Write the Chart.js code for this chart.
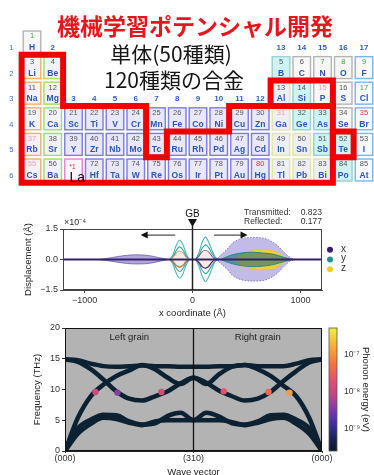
<!DOCTYPE html>
<html lang="ja">
<head>
<meta charset="utf-8">
<title>機械学習ポテンシャル開発</title>
<script src="https://cdn.jsdelivr.net/npm/chart.js@4.4.1/dist/chart.umd.min.js"></script>
<style>
  html, body { margin: 0; padding: 0; background: #fff; }
  #page { position: relative; width: 374px; height: 475px; overflow: hidden; }
  #page canvas { position: absolute; left: 0; }
  #title { position: absolute; left: 0; top: 8px; width: 390px; text-align: center; line-height: 28px;
           font: bold 23px "Noto Sans CJK JP", sans-serif; color: #e8161c; }
  .note { position: absolute; left: 0; text-align: center; white-space: nowrap;
          font: 21px/24px "Noto Sans CJK JP", sans-serif; color: #151515; }
</style>
</head>
<body>
<div id="page">
  <canvas id="dispChart" width="374" height="120" style="top:200px"></canvas>
  <canvas id="phononChart" width="374" height="158" style="top:320px"></canvas>
  <canvas id="tableChart" width="374" height="205" style="top:0"></canvas>
  <div id="title">機械学習ポテンシャル開発</div>
  <div class="note" style="top:41px;width:342px">単体(50種類)</div>
  <div class="note" style="top:67px;width:348px">120種類の合金</div>
</div>
<script>
// ---------- periodic table ----------
const elemSymbols = ['H',
  'Li','Be','B','C','N','O','F',
  'Na','Mg','Al','Si','P','S','Cl',
  'K','Ca','Sc','Ti','V','Cr','Mn','Fe','Co','Ni','Cu','Zn','Ga','Ge','As','Se','Br',
  'Rb','Sr','Y','Zr','Nb','Mo','Tc','Ru','Rh','Pd','Ag','Cd','In','Sn','Sb','Te','I',
  'Cs','Ba','La','Hf','Ta','W','Re','Os','Ir','Pt','Au','Hg','Tl','Pb','Bi','Po','At'];
const elemNumbers = ['1',
  '3','4','5','6','7','8','9',
  '11','12','13','14','15','16','17',
  '19','20','21','22','23','24','25','26','27','28','29','30','31','32','33','34','35',
  '37','38','39','40','41','42','43','44','45','46','47','48','49','50','51','52','53',
  '55','56','*1','72','73','74','75','76','77','78','79','80','81','82','83','84','85'];
const elemGroups = [1,
  1,2,13,14,15,16,17,
  1,2,13,14,15,16,17,
  1,2,3,4,5,6,7,8,9,10,11,12,13,14,15,16,17,
  1,2,3,4,5,6,7,8,9,10,11,12,13,14,15,16,17,
  1,2,3,4,5,6,7,8,9,10,11,12,13,14,15,16,17];
const elemPeriods = [1,
  2,2,2,2,2,2,2,
  3,3,3,3,3,3,3,
  4,4,4,4,4,4,4,4,4,4,4,4,4,4,4,4,4,
  5,5,5,5,5,5,5,5,5,5,5,5,5,5,5,5,5,
  6,6,6,6,6,6,6,6,6,6,6,6,6,6,6,6,6];
// a alkali, e alkaline earth, t transition, p post-transition, m metalloid, n nonmetal, h halogen, l lanthanide
const elemKinds = ['n',
  'a','e','m','n','n','n','h',
  'a','e','p','m','n','n','h',
  'a','e','t','t','t','t','t','t','t','t','t','t','p','m','m','n','h',
  'a','e','t','t','t','t','t','t','t','t','t','t','p','p','m','m','h',
  'a','e','l','t','t','t','t','t','t','t','t','t','p','p','p','m','h'];
// g gas, l liquid, w pale, s solid
const elemStates = ['g',
  's','s','s','s','g','g','g',
  's','s','s','s','w','s','g',
  's','s','s','s','s','s','s','s','s','s','s','s','w','s','s','s','l',
  'w','s','s','s','s','s','s','s','s','s','s','s','s','s','s','s','s',
  'w','s','s','s','s','s','s','s','s','s','s','l','s','s','s','s','s'];
const periodLabels = [1, 2, 3, 4, 5, 6];
const groupLabels = [2, 13, 14, 15, 16, 17, 3, 4, 5, 6, 7, 8, 9, 10, 11, 12];
const groupLabelRows = [1, 1, 1, 1, 1, 1, 3, 3, 3, 3, 3, 3, 3, 3, 3, 3];
// highlighted blocks: [first group, last group, first period, last period]
const hlMain = [[1, 2, 2, 6], [3, 6, 4, 6], [7, 10, 6, 6], [8, 10, 5, 5], [11, 15, 4, 6]];
const hlAlloy = [[13, 15, 3, 3]];
const hlTe = [[16, 16, 5, 5]];

// ---------- displacement panel (units of 1e-4 Å) ----------
const dispXTicks = [-1000, 0, 1000];
const dispYTicks = [-1.5, 0, 1.5];
const baseX = [-1200, 1200];
const baseY = [0, 0];
const reflX = [-880, -800, -700, -600, -500, -400, -300, -220];
const reflUp = [0, 0.05, 0.14, 0.21, 0.23, 0.19, 0.08, 0];
const reflLo = [0, -0.05, -0.13, -0.2, -0.22, -0.19, -0.08, 0];
const transX = [220, 320, 380, 470, 600, 690, 780, 840, 900, 950];
const transUp = [0, 0.5, 0.85, 1.05, 1.08, 1.0, 0.72, 0.4, 0.12, 0];
const transLo = [0, -0.48, -0.82, -1.02, -1.06, -0.98, -0.7, -0.38, -0.1, 0];
const transZX = [380, 450, 550, 650, 750, 830, 880];
const transZUp = [0, 0.22, 0.42, 0.48, 0.42, 0.18, 0];
const transZLo = [0, -0.25, -0.45, -0.5, -0.45, -0.2, 0];
const transYX = [260, 350, 450, 550, 650, 750, 850, 920];
const transYUp = [0, 0.2, 0.32, 0.36, 0.32, 0.26, 0.1, 0];
const transYLo = [0, -0.18, -0.3, -0.35, -0.33, -0.25, -0.1, 0];
const gbLX = [-210, -180, -150, -120, -90, -60, -30];
const gbLUp = [0, 0.25, 0.7, 0.95, 0.75, 0.3, 0];
const gbLLo = [0, -0.25, -0.68, -0.92, -0.72, -0.28, 0];
const gbLInUp = [0, 0.15, 0.45, 0.62, 0.48, 0.18, 0];
const gbLInLo = [0, -0.15, -0.43, -0.6, -0.46, -0.17, 0];
const gbLCoreUp = [0, 0.1, 0.3, 0.4, 0.32, 0.1, 0];
const gbLCoreLo = [0, -0.1, -0.3, -0.38, -0.3, -0.1, 0];
const gbRX = [30, 60, 90, 120, 150, 180, 210, 240];
const gbRUp = [0, 0.35, 0.85, 1.1, 0.85, 0.45, 0.12, 0];
const gbRLo = [0, -0.33, -0.82, -1.08, -0.85, -0.45, -0.1, 0];
const gbRInUp = [0, 0.22, 0.55, 0.72, 0.58, 0.3, 0.08, 0];
const gbRInLo = [0, -0.2, -0.53, -0.7, -0.56, -0.28, -0.08, 0];
const gbRCoreUp = [0, 0.14, 0.36, 0.44, 0.35, 0.14, 0, 0];
const gbRCoreLo = [0, -0.14, -0.35, -0.42, -0.34, -0.13, 0, 0];
const arrowFrom = [-160, 200];
const arrowTo = [-480, 510];
const arrowY = 1.2;
const transmitted = 0.823;
const reflected = 0.177;
const compLabels = ['x', 'y', 'z'];
const compColors = ['#3b1c6e', '#27918b', '#f2cf18'];

// ---------- phonon dispersion panel ----------
const qGrid = [0, 0.1, 0.2, 0.3, 0.4, 0.5, 0.6, 0.7, 0.8, 0.9, 1.0,
               1.1, 1.2, 1.3, 1.4, 1.5, 1.6, 1.7, 1.8, 1.9, 2.0];
const bandT = [14.9, 14.75, 14.2, 13.8, 13.7, 13.8, 13.9, 13.8, 13.8, 13.7, 13.7,
               13.7, 13.8, 13.8, 14.0, 13.8, 13.8, 13.8, 14.2, 14.75, 14.9];
const bandD = [14.9, 14.5, 13.3, 11.6, 9.7, 8.5, 8.2, 8.9, 9.7, 11.0, 11.9,
               11.1, 9.8, 8.9, 8.2, 8.5, 9.6, 11.4, 13.0, 14.4, 14.9];
const bandA = [0, 5.4, 8.9, 10.8, 12.2, 13.1, 14.0, 13.3, 11.9, 10.9, 11.9,
               10.9, 12.5, 13.7, 14.0, 13.3, 12.2, 10.6, 8.9, 5.4, 0];
const bandL1 = [0, 3.7, 5.1, 5.9, 5.8, 4.8, 4.3, 4.5, 5.7, 6.2, 5.0,
                6.2, 5.6, 4.5, 4.3, 4.8, 5.8, 5.9, 5.1, 3.7, 0];
const bandL2 = [0, 2.8, 4.4, 5.4, 5.2, 4.6, 4.2, 4.8, 5.0, 5.0, 5.0,
                5.0, 5.0, 4.7, 4.2, 4.6, 5.2, 5.4, 4.4, 2.8, 0];
const markerQ = [0.237, 0.408, 0.75, 1.235, 1.584, 1.747];
const markerF = [9.6, 9.5, 9.6, 9.7, 9.6, 9.5];
const markerE = [1.2e-8, 4e-9, 1.5e-8, 2e-8, 4e-8, 1.2e-7];
const freqTicks = [0, 5, 10, 15, 20];
const waveTickPos = [0, 1, 2];
const waveTickLabels = ['(000)', '(310)', '(000)'];
const grainLabels = ['Left grain', 'Right grain'];
const grainLabelQ = [0.5, 1.5];
const grainLabelF = 18.4;
const cbarTicks = [1e-9, 1e-8, 1e-7];
const cmapLogE = [-9.6, -9.3, -9.05, -8.78, -8.42, -8.07, -7.71, -7.27, -6.82, -6.28];
const cmapColors = ['#0b1830', '#151f52', '#2a2a80', '#5030a8', '#8a3aa8', '#c04888',
                    '#e05070', '#f77040', '#f8a838', '#f0f040'];

Chart.defaults.font.family = '"Liberation Sans", Arial, sans-serif';
Chart.defaults.color = '#333';
Chart.defaults.animation = false;

const kindStyles = {
  a: {fill: '#f3f1fb', border: '#f2b26a'},
  e: {fill: '#f3f1fb', border: '#a6dc6a'},
  t: {fill: '#e9e8fb', border: '#7d7de3'},
  p: {fill: '#eeeef6', border: '#e2e6a0'},
  m: {fill: '#cdf3f3', border: '#9fcfcf'},
  n: {fill: '#f7f7f7', border: '#b5b5b5'},
  h: {fill: '#f7f9ff', border: '#78b8ec'},
  l: {fill: '#fdf6fd', border: '#ea7fe0'}
};
const stateColors = {g: '#3cae3c', l: '#e03030', w: '#f0a0a8', s: '#555'};

// outline of a union of grid blocks: draw every cell side that has no neighbour inside
function drawRegion(ctx, xs, ys, blocks) {
  const inside = new Set();
  blocks.forEach(([c1, c2, r1, r2]) => {
    for (let c = c1; c <= c2; c++) for (let r = r1; r <= r2; r++) inside.add(c + ',' + r);
  });
  const has = (c, r) => inside.has(c + ',' + r);
  ctx.beginPath();
  inside.forEach(key => {
    const [c, r] = key.split(',').map(Number);
    const l = xs.getPixelForValue(c - 0.5), rt = xs.getPixelForValue(c + 0.5);
    const t = ys.getPixelForValue(r - 0.5), b = ys.getPixelForValue(r + 0.5);
    if (!has(c - 1, r)) { ctx.moveTo(l, t); ctx.lineTo(l, b); }
    if (!has(c + 1, r)) { ctx.moveTo(rt, t); ctx.lineTo(rt, b); }
    if (!has(c, r - 1)) { ctx.moveTo(l, t); ctx.lineTo(rt, t); }
    if (!has(c, r + 1)) { ctx.moveTo(l, b); ctx.lineTo(rt, b); }
  });
  ctx.stroke();
}

const tablePlugin = {
  id: 'tableCells',
  afterDraw(chart) {
    const {ctx} = chart;
    const xs = chart.scales.x, ys = chart.scales.y;
    const colW = xs.getPixelForValue(1) - xs.getPixelForValue(0);
    const rowH = ys.getPixelForValue(1) - ys.getPixelForValue(0);
    const cw = colW * 0.91, ch = rowH * 0.91;
    ctx.save();
    ctx.textAlign = 'center';
    ctx.textBaseline = 'middle';

    // period and group numbers
    ctx.fillStyle = '#4070c8';
    ctx.font = '7.5px "Liberation Sans"';
    periodLabels.forEach(p => {
      ctx.fillText(String(p), xs.getPixelForValue(0), ys.getPixelForValue(p) + rowH * 0.23);
    });
    ctx.fillStyle = '#2e5fc0';
    ctx.font = 'bold 8px "Liberation Sans"';
    groupLabels.forEach((g, i) => {
      ctx.fillText(String(g), xs.getPixelForValue(g), ys.getPixelForValue(groupLabelRows[i]) + rowH * 0.23);
    });

    // element cells
    const meta = chart.getDatasetMeta(0);
    let laPoint = null, laIndex = -1;
    meta.data.forEach((pt, i) => {
      const st = kindStyles[elemKinds[i]];
      const left = pt.x - cw / 2, top = pt.y - ch / 2;
      ctx.fillStyle = st.fill;
      ctx.fillRect(left, top, cw, ch);
      ctx.strokeStyle = st.border;
      ctx.lineWidth = 1.4;
      ctx.strokeRect(left + 0.7, top + 0.7, cw - 1.4, ch - 1.4);
      if (elemKinds[i] === 'l') {
        ctx.fillStyle = '#e03030';
        ctx.font = '6.5px "Liberation Sans"';
        ctx.fillText(elemNumbers[i], pt.x - 1, pt.y - 3);
        laPoint = pt; laIndex = i;
      } else {
        ctx.fillStyle = stateColors[elemStates[i]];
        ctx.font = '7.5px "Liberation Sans"';
        ctx.fillText(elemNumbers[i], pt.x, pt.y - rowH * 0.22);
        ctx.fillStyle = '#2a55b5';
        ctx.font = 'bold 8.5px "Liberation Sans"';
        ctx.fillText(elemSymbols[i], pt.x, pt.y + rowH * 0.22);
      }
    });

    // red outlines
    ctx.strokeStyle = '#f00000';
    ctx.lineWidth = 6;
    ctx.lineCap = 'square';
    [hlMain, hlAlloy, hlTe].forEach(blocks => drawRegion(ctx, xs, ys, blocks));

    // the La label sits over the outline
    if (laPoint) {
      ctx.fillStyle = '#111';
      ctx.font = '14px "Liberation Sans"';
      ctx.textAlign = 'left';
      ctx.textBaseline = 'alphabetic';
      ctx.fillText(elemSymbols[laIndex], laPoint.x - 4, laPoint.y + 12);
    }
    ctx.restore();
  }
};

new Chart(document.getElementById('tableChart'), {
  type: 'scatter',
  data: {
    datasets: [{
      data: elemSymbols.map((s, i) => ({x: elemGroups[i], y: elemPeriods[i]})),
      pointRadius: 0
    }]
  },
  options: {
    responsive: false,
    events: [],
    layout: {padding: 0},
    plugins: {legend: {display: false}, tooltip: {enabled: false}},
    scales: {
      x: {type: 'linear', display: false, min: -0.542, max: 17.482},
      y: {type: 'linear', display: false, reverse: true, min: -0.64, max: 7.367}
    }
  },
  plugins: [tablePlugin]
});

// ---------- displacement chart ----------
const dispSets = [];
function addBand(xs, up, lo, fillCol, lineCol, lw, dash) {
  const common = {borderColor: lineCol, borderWidth: lw, borderDash: dash || [], pointRadius: 0, tension: 0.35};
  dispSets.push(Object.assign({data: xs.map((x, i) => ({x, y: up[i]})), fill: false}, common));
  dispSets.push(Object.assign({data: xs.map((x, i) => ({x, y: lo[i]})),
    fill: fillCol ? '-1' : false, backgroundColor: fillCol || 'transparent'}, common));
}
// pushed bottom layer first
addBand(reflX, reflUp, reflLo, 'rgba(100,80,185,0.5)', 'rgba(70,50,150,0.75)', 0.8);
addBand(transX, transUp, transLo, 'rgba(105,85,195,0.4)', 'rgba(80,60,170,0.7)', 0.9, [1.5, 1.5]);
addBand(transZX, transZUp, transZLo, 'rgba(245,212,30,0.85)', '#e8c81a', 1);
addBand(transYX, transYUp, transYLo, 'rgba(35,110,120,0.6)', '#2a8c8a', 1);
addBand(gbLX, gbLUp, gbLLo, null, '#4cb8b8', 1.1);
addBand(gbLX, gbLInUp, gbLInLo, null, '#3aa3a3', 1.1);
addBand(gbLX, gbLCoreUp, gbLCoreLo, 'rgba(246,236,222,0.95)', '#c27a3a', 1.3);
addBand(gbRX, gbRUp, gbRLo, null, '#4cb8b8', 1.1);
addBand(gbRX, gbRInUp, gbRInLo, null, '#3aa3a3', 1.1);
addBand(gbRX, gbRCoreUp, gbRCoreLo, 'rgba(246,236,222,0.95)', '#4a2c7a', 1.3);
dispSets.push({data: baseX.map((x, i) => ({x, y: baseY[i]})), borderColor: '#35206a',
  borderWidth: 2, pointRadius: 0, fill: false});
dispSets.forEach((d, i) => { d.order = dispSets.length - i; });

const dispPlugin = {
  id: 'dispDecor',
  afterDatasetsDraw(chart) {
    const {ctx, chartArea: a} = chart;
    const xs = chart.scales.x, ys = chart.scales.y;
    ctx.save();
    ctx.strokeStyle = '#444';
    ctx.lineWidth = 1;
    ctx.strokeRect(a.left + 0.5, a.top + 0.5, a.right - a.left - 1, a.bottom - a.top - 1);

    // grain boundary
    const gx = xs.getPixelForValue(0);
    ctx.strokeStyle = '#222';
    ctx.lineWidth = 1.5;
    ctx.beginPath();
    ctx.moveTo(gx, a.top - 3);
    ctx.lineTo(gx, a.bottom);
    ctx.stroke();
    ctx.fillStyle = '#111';
    ctx.beginPath();
    ctx.moveTo(gx - 4.5, a.top - 10);
    ctx.lineTo(gx + 4.5, a.top - 10);
    ctx.lineTo(gx, a.top - 2);
    ctx.closePath();
    ctx.fill();
    ctx.font = '10px "Liberation Sans"';
    ctx.textAlign = 'center';
    ctx.textBaseline = 'middle';
    ctx.fillText('GB', gx, a.top - 15);

    // arrows
    const ay = ys.getPixelForValue(arrowY);
    ctx.strokeStyle = '#222';
    ctx.lineWidth = 1;
    arrowFrom.forEach((f, i) => {
      const x1 = xs.getPixelForValue(f), x2 = xs.getPixelForValue(arrowTo[i]);
      const dir = Math.sign(x2 - x1);
      ctx.beginPath();
      ctx.moveTo(x1, ay);
      ctx.lineTo(x2 - dir * 6, ay);
      ctx.stroke();
      ctx.beginPath();
      ctx.moveTo(x2, ay);
      ctx.lineTo(x2 - dir * 7, ay - 3.5);
      ctx.lineTo(x2 - dir * 7, ay + 3.5);
      ctx.closePath();
      ctx.fill();
    });

    // exponent and coefficients
    ctx.textAlign = 'left';
    ctx.font = '9px "Liberation Sans"';
    ctx.fillStyle = '#333';
    ctx.fillText('×10⁻⁴', a.left + 1, a.top - 6);
    ctx.font = '8.5px "Liberation Sans"';
    ctx.fillText('Transmitted:', a.right - 78, a.top - 16);
    ctx.fillText('Reflected:', a.right - 78, a.top - 7);
    ctx.textAlign = 'right';
    ctx.fillText(transmitted.toFixed(3), a.right, a.top - 16);
    ctx.fillText(reflected.toFixed(3), a.right, a.top - 7);

    // legend
    const mid = (a.top + a.bottom) / 2;
    ctx.textAlign = 'left';
    ctx.font = '10px "Liberation Sans"';
    compLabels.forEach((lab, i) => {
      const yy = mid + (i - 1) * 9.7;
      ctx.fillStyle = compColors[i];
      ctx.beginPath();
      ctx.arc(a.right + 8, yy, 3, 0, Math.PI * 2);
      ctx.fill();
      ctx.fillStyle = '#333';
      ctx.fillText(lab, a.right + 19, yy - 1);
    });
    ctx.restore();
  }
};

new Chart(document.getElementById('dispChart'), {
  type: 'line',
  data: {datasets: dispSets},
  options: {
    responsive: false,
    events: [],
    layout: {padding: {top: 29, right: 52, left: 0, bottom: 0}},
    plugins: {legend: {display: false}, tooltip: {enabled: false}},
    scales: {
      x: {
        type: 'linear', min: -1200, max: 1200,
        afterBuildTicks: s => { s.ticks = dispXTicks.map(v => ({value: v})); },
        afterFit: s => { s.height = 30; },
        ticks: {callback: v => (v < 0 ? '−' : '') + Math.abs(v), font: {size: 9}, padding: 2, maxRotation: 0},
        grid: {display: true, drawOnChartArea: false, tickLength: 3, color: '#444'},
        border: {color: '#444'},
        title: {display: true, text: 'x coordinate (Å)', font: {size: 9.5}, color: '#222', padding: {top: 0, bottom: 1}}
      },
      y: {
        min: -1.5, max: 1.5,
        afterBuildTicks: s => { s.ticks = dispYTicks.map(v => ({value: v})); },
        afterFit: s => { s.width = 63; },
        ticks: {callback: v => (v < 0 ? '−' : '') + Math.abs(v).toFixed(1), font: {size: 9}, padding: 2},
        grid: {display: true, drawOnChartArea: false, tickLength: 3, color: '#444'},
        border: {color: '#444'},
        title: {display: true, text: 'Displacement (Å)', font: {size: 9.5}, color: '#222', padding: {top: 23, bottom: 0}}
      }
    }
  },
  plugins: [dispPlugin]
});

// ---------- phonon chart ----------
function hexToRgb(h) {
  const n = parseInt(h.slice(1), 16);
  return [(n >> 16) & 255, (n >> 8) & 255, n & 255];
}
function energyColor(E) {
  const lg = Math.log10(E);
  for (let i = 1; i < cmapLogE.length; i++) {
    if (lg <= cmapLogE[i]) {
      const f = Math.max(0, (lg - cmapLogE[i - 1]) / (cmapLogE[i] - cmapLogE[i - 1]));
      const c0 = hexToRgb(cmapColors[i - 1]), c1 = hexToRgb(cmapColors[i]);
      return 'rgb(' + c0.map((v, k) => Math.round(v + (c1[k] - v) * f)).join(',') + ')';
    }
  }
  return cmapColors[cmapColors.length - 1];
}
const SUP = {'-': '⁻', '0': '⁰', '1': '¹', '2': '²', '3': '³', '4': '⁴', '5': '⁵', '6': '⁶', '7': '⁷', '8': '⁸', '9': '⁹'};
const supText = n => String(n).split('').map(c => SUP[c]).join('');

const bandColor = '#0c2233';
const bandSet = ys => ({
  data: qGrid.map((q, i) => ({x: q, y: ys[i]})),
  borderColor: bandColor, borderWidth: 4.5, pointRadius: 0, fill: false,
  cubicInterpolationMode: 'monotone', borderCapStyle: 'round', borderJoinStyle: 'round'
});

const phononPlugin = {
  id: 'phononDecor',
  beforeDatasetsDraw(chart) {
    const {ctx, chartArea: a} = chart;
    ctx.save();
    ctx.fillStyle = '#b3b3b3';
    ctx.fillRect(a.left, a.top, a.right - a.left, a.bottom - a.top);
    ctx.restore();
  },
  afterDatasetsDraw(chart) {
    const {ctx, chartArea: a} = chart;
    const xs = chart.scales.x, ys = chart.scales.y, yc = chart.scales.yc;
    ctx.save();
    // boundary line between grains
    const mx = xs.getPixelForValue(waveTickPos[1]);
    ctx.strokeStyle = '#111';
    ctx.lineWidth = 1.3;
    ctx.beginPath();
    ctx.moveTo(mx, a.top);
    ctx.lineTo(mx, a.bottom);
    ctx.stroke();
    ctx.lineWidth = 1;
    ctx.strokeRect(a.left + 0.5, a.top + 0.5, a.right - a.left - 1, a.bottom - a.top - 1);

    ctx.fillStyle = '#222';
    ctx.font = '9.5px "Liberation Sans"';
    ctx.textAlign = 'center';
    ctx.textBaseline = 'middle';
    grainLabels.forEach((t, i) => {
      ctx.fillText(t, xs.getPixelForValue(grainLabelQ[i]), ys.getPixelForValue(grainLabelF));
    });

    // colour bar
    const x0 = a.right + 7, w = 8;
    const g = ctx.createLinearGradient(0, yc.bottom, 0, yc.top);
    cmapLogE.forEach((lg, i) => {
      const yy = yc.getPixelForValue(Math.pow(10, lg));
      const off = Math.min(1, Math.max(0, (yc.bottom - yy) / (yc.bottom - yc.top)));
      g.addColorStop(off, cmapColors[i]);
    });
    ctx.fillStyle = g;
    ctx.fillRect(x0, yc.top, w, yc.bottom - yc.top);
    ctx.strokeStyle = '#555';
    ctx.lineWidth = 0.8;
    ctx.strokeRect(x0, yc.top, w, yc.bottom - yc.top);
    ctx.restore();
  }
};

new Chart(document.getElementById('phononChart'), {
  type: 'line',
  data: {
    datasets: [
      {
        data: markerQ.map((q, i) => ({x: q, y: markerF[i]})),
        showLine: false, pointRadius: 3.2, pointBorderWidth: 0,
        pointBackgroundColor: markerE.map(energyColor), order: 0
      },
      Object.assign(bandSet(bandT), {order: 1}),
      Object.assign(bandSet(bandD), {order: 2}),
      Object.assign(bandSet(bandA), {order: 3}),
      Object.assign(bandSet(bandL1), {order: 4}),
      Object.assign(bandSet(bandL2), {order: 5})
    ]
  },
  options: {
    responsive: false,
    events: [],
    layout: {padding: {top: 8, right: 0, left: 0, bottom: 0}},
    plugins: {legend: {display: false}, tooltip: {enabled: false}},
    scales: {
      x: {
        type: 'linear', min: 0, max: 2,
        afterBuildTicks: s => { s.ticks = waveTickPos.map(v => ({value: v})); },
        afterFit: s => { s.height = 27; },
        ticks: {callback: (v, i) => waveTickLabels[i], font: {size: 9}, padding: 0, maxRotation: 0},
        grid: {display: true, drawOnChartArea: false, tickLength: 2, color: '#333'},
        border: {color: '#222'},
        title: {display: true, text: 'Wave vector', font: {size: 9.5}, color: '#222', padding: {top: 0, bottom: 0}}
      },
      y: {
        min: 0, max: 20,
        afterBuildTicks: s => { s.ticks = freqTicks.map(v => ({value: v})); },
        afterFit: s => { s.width = 65; },
        ticks: {font: {size: 9}, padding: 2},
        grid: {display: true, drawOnChartArea: false, tickLength: 3, color: '#333'},
        border: {color: '#222'},
        title: {display: true, text: 'Frequency (THz)', font: {size: 9.5}, color: '#222', padding: {top: 32, bottom: 0}}
      },
      yc: {
        type: 'logarithmic', position: 'right',
        min: Math.pow(10, -9.6), max: Math.pow(10, -6.28),
        afterBuildTicks: s => { s.ticks = cbarTicks.map(v => ({value: v})); },
        afterFit: s => { s.width = 52; },
        ticks: {callback: v => '10' + supText(Math.round(Math.log10(v))), font: {size: 8.5}, padding: 2},
        grid: {display: true, drawOnChartArea: false, drawTicks: true, tickLength: 20, color: 'rgba(0,0,0,0)'},
        border: {display: false},
        title: {display: true, text: 'Phonon energy (eV)', font: {size: 9.5}, color: '#222', padding: {top: 3, bottom: 0}}
      }
    }
  },
  plugins: [phononPlugin]
});
</script>
</body>
</html>
